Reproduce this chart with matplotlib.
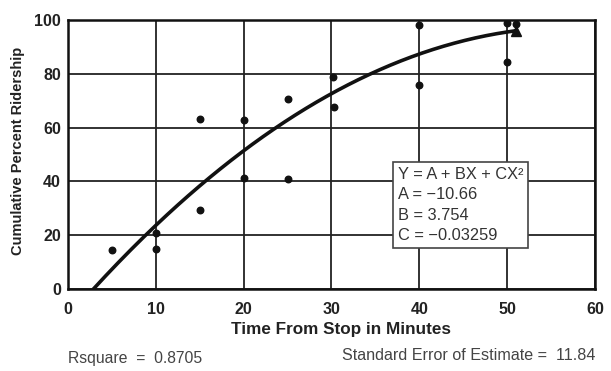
import numpy as np
import matplotlib
matplotlib.use("Agg")
import matplotlib.pyplot as plt

# Observed data points (minutes, cumulative percent)
obs_x = [5, 10, 10, 15, 15, 20, 20, 25, 25, 30.2, 30.3, 40, 40, 50, 50, 51]
obs_y = [14.5, 14.8, 21, 63.3, 29.4, 63, 41.4, 70.6, 41, 78.9, 67.5, 98.1, 75.8, 98.8, 84.5, 98.4]

# Fitted curve coefficients from the chart
A, B, C = -10.66, 3.754, -0.03259
fit_start, fit_end = 2.84, 51.0
end_marker_x = [51.0]

x_ticks = [0, 10, 20, 30, 40, 50, 60]
y_ticks = [0, 20, 40, 60, 80, 100]

plt.rcParams['font.family'] = ['Liberation Sans', 'DejaVu Sans']

fig = plt.figure(figsize=(6.11, 3.71), dpi=100)
ax = fig.add_axes([0.111, 0.221, 0.863, 0.725])

xs = np.linspace(fit_start, fit_end, 200)
ys = A + B * xs + C * xs ** 2
ax.plot(xs, ys, color='#111111', lw=2.6, solid_capstyle='butt', zorder=3)
ex = np.array(end_marker_x)
ax.plot(ex, A + B * ex + C * ex ** 2, marker='^', ms=7, color='#111111', zorder=4, ls='none')

ax.scatter(obs_x, obs_y, s=22, color='#111111', zorder=4)

ax.set_xlim(0, 60)
ax.set_ylim(0, 100)
ax.set_xticks(x_ticks)
ax.set_yticks(y_ticks)
ax.grid(True, color='#222222', lw=1.3)
ax.set_axisbelow(True)
for s in ax.spines.values():
    s.set_linewidth(1.8)
    s.set_color('#111111')
ax.tick_params(axis='x', length=0, pad=9, labelsize=11.5)
ax.tick_params(axis='y', length=0, pad=5, labelsize=11.5)
for lbl in ax.get_xticklabels() + ax.get_yticklabels():
    lbl.set_fontweight('bold')
    lbl.set_color('#222222')

fig.text(0.558, 0.112, 'Time From Stop in Minutes', fontsize=12.3, fontweight='bold',
         color='#222222', ha='center', va='center')
fig.text(0.03, 0.593, 'Cumulative Percent Ridership', fontsize=10.5, fontweight='bold',
         color='#222222', ha='center', va='center', rotation=90)

box_text = 'Y = A + BX + CX\u00b2\nA = \u221210.66\nB = 3.754\nC = \u22120.03259'
ax.text(37.55, 45.4, box_text, fontsize=11.8, va='top', ha='left', color='#333333', linespacing=1.45,
        bbox=dict(boxstyle='square,pad=0.3', fc='white', ec='#444444', lw=1.2), zorder=5)

fig.text(0.111, 0.033, 'Rsquare  =  0.8705', fontsize=11.3, color='#444444', ha='left', va='center')
fig.text(0.974, 0.041, 'Standard Error of Estimate =  11.84', fontsize=11.6, color='#444444', ha='right', va='center')

fig.savefig('out.png', dpi=100)
